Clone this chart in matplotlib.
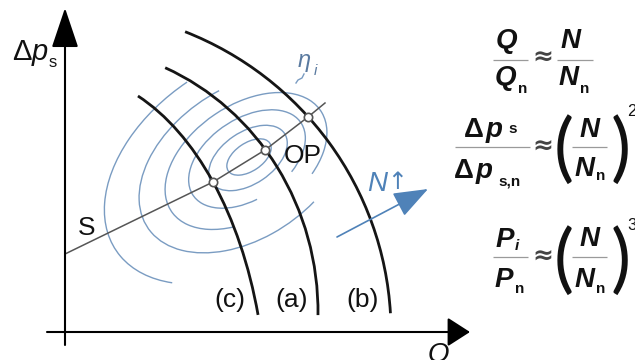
"""Fan characteristic curves with efficiency contours and fan (affinity) laws."""

import matplotlib
matplotlib.use("Agg")
import matplotlib.pyplot as plt
from matplotlib.patches import Arc

plt.rcParams["font.family"] = ["Liberation Sans", "DejaVu Sans"]

# coordinates: Q to the right, dp upwards, origin where the axes cross (1 unit = 1 px)

# fan curves (ellipse arcs): centre, full width/height, start/end angle in degrees
fan_labels = ["(c)", "(a)", "(b)"]
fan_cq = [0, 0, 0]
fan_cp = [-80, 20, 0]
fan_w = [403, 506, 652]
fan_h = [678, 532, 646]
fan_t1 = [26.7, -0.7, 3.3]
fan_t2 = [77.0, 67.7, 68.2]
fan_label_q = [165, 227, 298]

# operating points on the system curve
op_q = [148, 200, 243]
op_p = [150, 182, 215]

# system curve S
sys_q = [0, 148, 200, 243, 260]
sys_p = [78, 150, 182, 215, 229]

# efficiency contours (tilted ellipse arcs)
eff_tilt = 34
eff_cq = [184, 183, 182, 181, 179, 178]
eff_cp = [175, 174, 173, 171, 169, 167]
eff_w = [50, 88, 130, 180, 232, 306]
eff_h = [28, 52, 80, 112, 150, 200]
eff_t1 = [0, 0, -50, -45, 75, 90]
eff_t2 = [360, 360, 250, 225, 297, 205]

BLUE = "#7a9cc2"
ARROW_BLUE = "#4f82b8"


def put(ax, q, p, s, size=20, style="italic", weight="bold", ha="center", va="center",
        color="#111111", family=None):
    kw = {} if family is None else {"family": family}
    ax.text(q, p, s, fontsize=size, fontstyle=style, fontweight=weight,
            ha=ha, va=va, color=color, **kw)


def frac_bar(ax, q0, q1, p):
    ax.plot([q0, q1], [p, p], color="#9a9a9a", lw=0.9, solid_capstyle="butt")


def approx(ax, q, p):
    put(ax, q, p, "≈", style="normal", weight="bold", size=18, color="#444444",
        family=["DejaVu Sans"])


def paren(ax, q, p, s):
    put(ax, q, p, s, style="normal", weight="normal", size=54, color="#111111",
        family=["Lato", "DejaVu Sans"])


fig = plt.figure(figsize=(6.35, 3.6), dpi=100)
ax = fig.add_axes([0, 0, 1, 1])
ax.set_xlim(-65, 570)
ax.set_ylim(-28, 332)
ax.axis("off")

# axes with arrow heads
ax.annotate("", xy=(0, 324), xytext=(0, -13),
            arrowprops=dict(arrowstyle="-|>,head_length=1.25,head_width=0.42",
                            lw=1.5, color="black", shrinkA=0, shrinkB=0, mutation_scale=20))
ax.annotate("", xy=(405, 0), xytext=(-18, 0),
            arrowprops=dict(arrowstyle="-|>,head_length=0.7,head_width=0.45",
                            lw=1.5, color="black", shrinkA=0, shrinkB=0, mutation_scale=20))

# efficiency contours
for cq, cp, w, h, t1, t2 in zip(eff_cq, eff_cp, eff_w, eff_h, eff_t1, eff_t2):
    ax.add_patch(Arc((cq, cp), w, h, angle=eff_tilt, theta1=t1, theta2=t2,
                     color=BLUE, lw=1.0))

# fan curves
for cq, cp, w, h, t1, t2 in zip(fan_cq, fan_cp, fan_w, fan_h, fan_t1, fan_t2):
    ax.add_patch(Arc((cq, cp), w, h, theta1=t1, theta2=t2, color="#151515", lw=2.0))

# system curve and operating points
ax.plot(sys_q, sys_p, color="#555555", lw=1.1)
ax.plot(op_q, op_p, "o", ms=6, mfc="white", mec="#555555", mew=1.2)

# labels on the chart
put(ax, -53, 272, "Δ", style="normal", weight="normal", size=21, ha="left", va="baseline")
put(ax, -33, 272, "p", weight="normal", size=21, ha="left", va="baseline")
put(ax, -16, 265, "s", style="normal", weight="normal", size=12, ha="left", va="baseline")
put(ax, 373, -10, "Q", weight="normal", size=20, va="top")
put(ax, 22, 104, "S", style="normal", weight="normal", size=19)
put(ax, 238, 176, "OP", style="normal", weight="normal", size=19)
for q, lab in zip(fan_label_q, fan_labels):
    put(ax, q, 32, lab, style="normal", weight="normal", size=19)

put(ax, 239, 271, "η", weight="normal", size=17, color="#5a7aa0")
put(ax, 250, 261, "i", weight="normal", size=11, color="#5a7aa0")
ax.plot([239, 237, 233, 231], [258, 254, 252, 249], color=BLUE, lw=1.0)

put(ax, 312, 148, "N", weight="normal", size=20, color=ARROW_BLUE)
put(ax, 332, 150, "↑", style="normal", weight="normal", size=17, color=ARROW_BLUE,
    family=["DejaVu Sans"])
ax.annotate("", xy=(363, 143), xytext=(272, 95),
            arrowprops=dict(arrowstyle="-|>,head_length=1.2,head_width=0.45",
                            lw=1.2, color=ARROW_BLUE, shrinkA=0, shrinkB=0, mutation_scale=18))

# fan laws
# Q/Qn ~ N/Nn
put(ax, 441, 291, "Q")
frac_bar(ax, 428, 463, 272)
put(ax, 440, 254, "Q")
put(ax, 453, 239, "n", style="normal", size=11, ha="left", va="baseline")
approx(ax, 478, 274)
put(ax, 506, 291, "N")
frac_bar(ax, 492, 528, 272)
put(ax, 504, 254, "N")
put(ax, 515, 239, "n", style="normal", size=11, ha="left", va="baseline")

# dps/dps,n ~ (N/Nn)^2
put(ax, 399, 195, "Δ", style="normal", ha="left", va="baseline")
put(ax, 421, 195, "p", ha="left", va="baseline")
put(ax, 443, 199, "s", style="normal", size=11, ha="left", va="baseline")
frac_bar(ax, 390, 465, 185)
put(ax, 389, 154, "Δ", style="normal", ha="left", va="baseline")
put(ax, 411, 154, "p", ha="left", va="baseline")
put(ax, 433, 146, "s,n", style="normal", size=11, ha="left", va="baseline")
approx(ax, 478, 185)
paren(ax, 499, 181, "(")
paren(ax, 556, 181, ")")
put(ax, 525, 202, "N")
frac_bar(ax, 507, 542, 185)
put(ax, 520, 163, "N")
put(ax, 531, 152, "n", style="normal", size=11, ha="left", va="baseline")
put(ax, 567, 220, "2", style="normal", weight="normal", size=12)

# Pi/Pn ~ (N/Nn)^3
put(ax, 440, 92, "P")
put(ax, 450, 82, "i", size=11, ha="left", va="baseline")
frac_bar(ax, 428, 463, 75)
put(ax, 439, 52, "P")
put(ax, 450, 39, "n", style="normal", size=11, ha="left", va="baseline")
approx(ax, 478, 75)
paren(ax, 499, 70, "(")
paren(ax, 556, 70, ")")
put(ax, 525, 93, "N")
frac_bar(ax, 507, 542, 75)
put(ax, 520, 52, "N")
put(ax, 531, 39, "n", style="normal", size=11, ha="left", va="baseline")
put(ax, 567, 107, "3", style="normal", weight="normal", size=12)

fig.savefig("out.png", dpi=100)
